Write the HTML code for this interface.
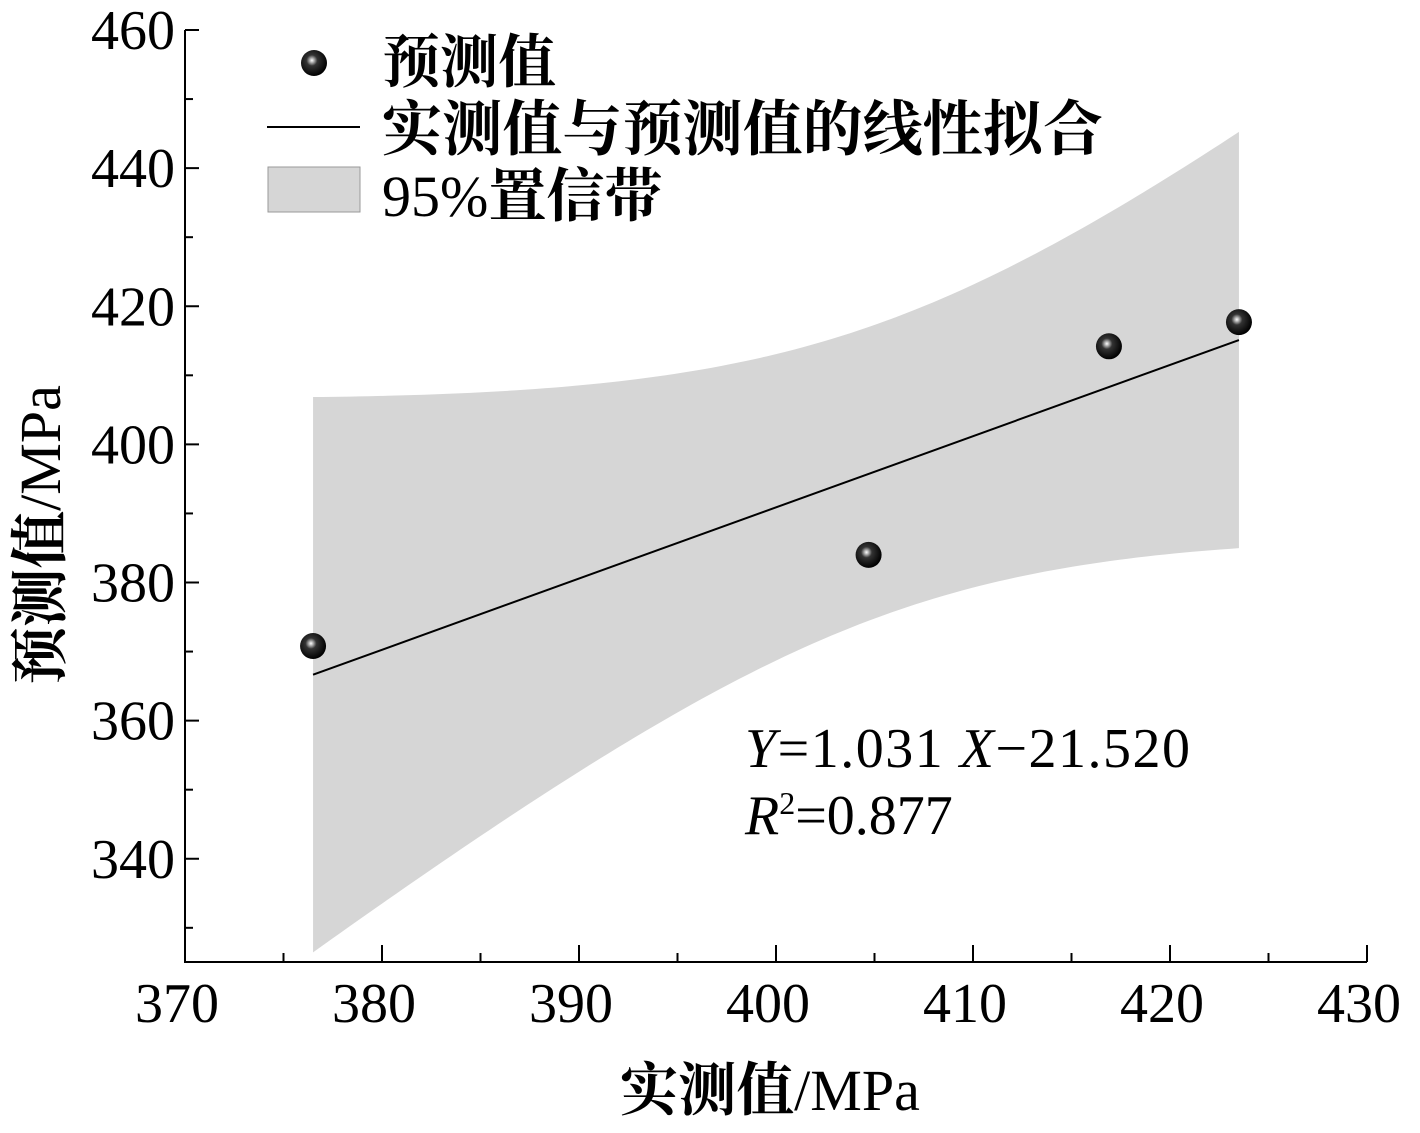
<!DOCTYPE html>
<html><head><meta charset="utf-8"><style>
html,body{margin:0;padding:0;background:#fff;}
svg{display:block;font-family:"Liberation Serif","Noto Serif CJK SC",serif;}
</style></head><body>
<svg id="chart" width="1420" height="1133" viewBox="0 0 1420 1133" xmlns="http://www.w3.org/2000/svg">
<defs>
<radialGradient id="ball" cx="0.42" cy="0.4" r="0.6">
<stop offset="0" stop-color="#fff"/><stop offset="0.12" stop-color="#bbb"/><stop offset="0.35" stop-color="#333"/><stop offset="1" stop-color="#000"/>
</radialGradient>
</defs>
<g id="band"></g>
<g id="fit"></g>
<g id="axes"></g>
<g id="pts"></g>
<g>
<circle cx="314" cy="63" r="13" fill="url(#ball)"/>
<text x="382" y="82" font-size="58" font-weight="bold">预测值</text>
<line x1="267" y1="127" x2="360" y2="127" stroke="#000" stroke-width="2"/>
<text x="382" y="150" font-size="60" font-weight="bold" textLength="721" lengthAdjust="spacingAndGlyphs">实测值与预测值的线性拟合</text>
<rect x="268" y="167" width="92" height="45" fill="#d6d6d6" stroke="#999" stroke-width="1"/>
<text x="382" y="216" font-size="58">95%<tspan font-weight="bold">置信带</tspan></text>
</g>
<text x="745" y="767" font-size="56" textLength="445" lengthAdjust="spacing"><tspan font-style="italic">Y</tspan>=1.031 <tspan font-style="italic">X</tspan>−21.520</text>
<text x="745" y="834" font-size="56"><tspan font-style="italic">R</tspan><tspan font-size="32" dy="-20">2</tspan><tspan dy="20">=0.877</tspan></text>
<text x="770" y="1110" font-size="58" text-anchor="middle" font-weight="bold">实测值<tspan font-weight="normal">/MPa</tspan></text>
<text transform="translate(60,535) rotate(-90)" font-size="58" text-anchor="middle" font-weight="bold">预测值<tspan font-weight="normal">/MPa</tspan></text>
</svg>
<script>
const xTicks=[370,380,390,400,410,420,430];
const yTicks=[340,360,380,400,420,440,460];
const measured=[376.5,404.7,416.9,423.5];
const predicted=[370.8,384.0,414.2,417.7];
const fitSlope=[1.031];
const fitIntercept=[-21.52];
const bandScale=[42.5];
const X0=185,X1=1367,Y0=962,Y1=30;
const xMin=370,xMax=430,yMin=325.05,yMax=460;
const sx=v=>X0+(v-xMin)/(xMax-xMin)*(X1-X0);
const sy=v=>Y0-(v-yMin)/(yMax-yMin)*(Y0-Y1);
const NS='http://www.w3.org/2000/svg';
function mk(tag,attrs,parent){const e=document.createElementNS(NS,tag);for(const k in attrs)e.setAttribute(k,attrs[k]);parent.appendChild(e);return e;}
const axes=document.getElementById('axes');
let e=mk('path',{d:`M${X0},${Y1}V${Y0}H${X1}`,fill:'none',stroke:'#000','stroke-width':2},axes);


for(let v=xMin;v<=xMax;v+=5){const maj=v%10===0;const x=sx(v);
e=mk('line',{x1:x,x2:x,y1:Y0,y2:Y0-(maj?17:9),stroke:'#000','stroke-width':2},axes);

}
xTicks.forEach(v=>{e=mk('text',{x:sx(v)-8,y:Y0+60,'font-size':56,'text-anchor':'middle'},axes);e.textContent=v;

});
for(let v=330;v<=460;v+=10){const maj=v%20===0;const y=sy(v);
e=mk('line',{x1:X0,x2:X0+(maj?14:8),y1:y,y2:y,stroke:'#000','stroke-width':2},axes);

}
yTicks.forEach(v=>{e=mk('text',{x:X0-10,y:sy(v)+19,'font-size':56,'text-anchor':'end'},axes);e.textContent=v;

});
const n=measured.length, xbar=measured.reduce((a,b)=>a+b,0)/n;
const Sxx=measured.reduce((a,b)=>a+(b-xbar)**2,0);
const xa=Math.min(...measured), xb=Math.max(...measured);
const f=x=>fitSlope[0]*x+fitIntercept[0];
const hw=x=>bandScale[0]*Math.sqrt(1/n+(x-xbar)**2/Sxx);
let up=[],lo=[];
for(let i=0;i<=100;i++){const x=xa+(xb-xa)*i/100;up.push(`${sx(x)},${sy(f(x)+hw(x))}`);lo.unshift(`${sx(x)},${sy(f(x)-hw(x))}`);}
e=mk('polygon',{points:up.concat(lo).join(' '),fill:'#d6d6d6'},document.getElementById('band'));


e=mk('line',{x1:sx(xa),y1:sy(f(xa)),x2:sx(xb),y2:sy(f(xb)),stroke:'#000','stroke-width':2},document.getElementById('fit'));


measured.forEach((x,i)=>{e=mk('circle',{cx:sx(x),cy:sy(predicted[i]),r:13,fill:'url(#ball)'},document.getElementById('pts'));

});
</script>
</body></html>
